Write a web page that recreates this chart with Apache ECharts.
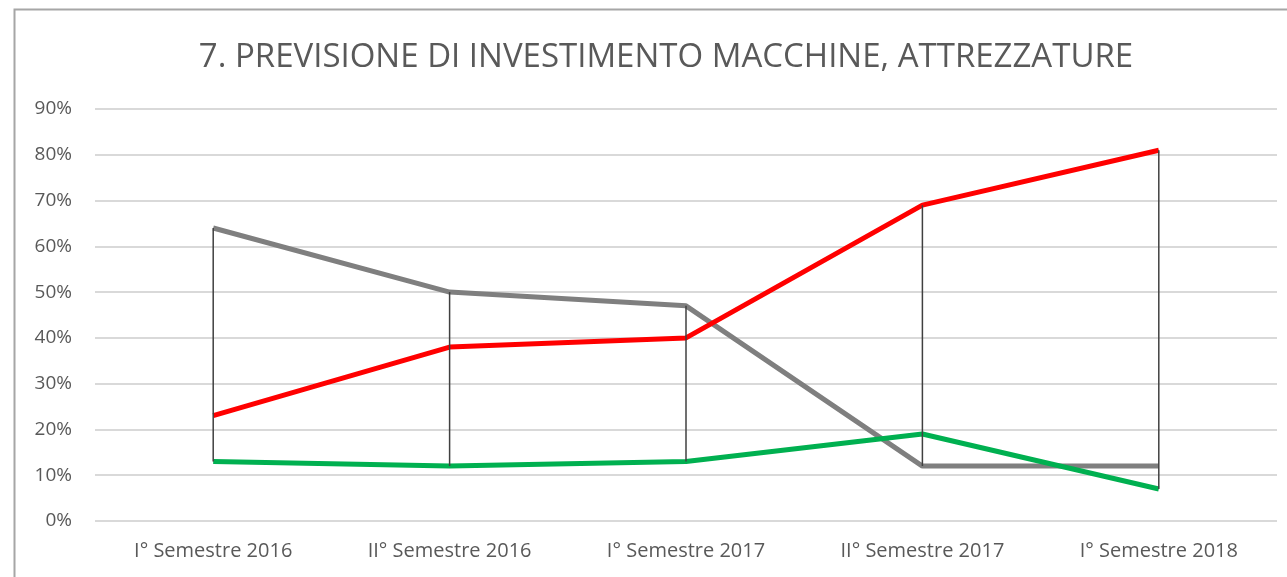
<!DOCTYPE html>
<html>
<head>
<meta charset="utf-8">
<script src="https://cdn.jsdelivr.net/npm/echarts@6/dist/echarts.min.js"></script>
<style>
  html, body { margin: 0; padding: 0; background: #fff; }
  #chart { width: 1287px; height: 577px; }
</style>
</head>
<body>
<div id="chart"></div>
<script>
// dati (percentuali)
const categorie = ['I° Semestre 2016', 'II° Semestre 2016', 'I° Semestre 2017', 'II° Semestre 2017', 'I° Semestre 2018'];
const serieGrigia = [64, 50, 47, 12, 12];
const serieRossa = [23, 38, 40, 69, 81];
const serieVerde = [13, 12, 13, 19, 7];
const tickY = [0, 10, 20, 30, 40, 50, 60, 70, 80, 90];

const chartDom = document.getElementById('chart');
const myChart = echarts.init(chartDom);

// linee max-min per ogni categoria (come le "linee di massimo e minimo" di Excel)
const lineeMaxMin = categorie.map((c, i) => {
    const v = [serieGrigia[i], serieRossa[i], serieVerde[i]];
    return [i, Math.min(...v), Math.max(...v)];
});

const font = '"Open Sans", "Liberation Sans", sans-serif';

const option = {
    animation: false,
    title: {
        text: '7. PREVISIONE DI INVESTIMENTO MACCHINE, ATTREZZATURE',
        left: 661,
        textAlign: 'center',
        top: 36,
        textStyle: { fontFamily: font, fontSize: 33, fontWeight: 'normal', color: '#595959' }
    },
    graphic: [{
        type: 'rect',
        shape: { x: 14.5, y: 9.5, width: 1300, height: 600 },
        style: { fill: 'none', stroke: '#a6a6a6', lineWidth: 2 },
        silent: true
    }],
    grid: { left: 95, right: 10, top: 109, bottom: 56 },
    xAxis: {
        type: 'category',
        data: categorie,
        boundaryGap: true,
        axisLine: { show: false },
        axisTick: { show: false },
        axisLabel: { fontFamily: font, fontSize: 20, color: '#595959', margin: 20 }
    },
    yAxis: {
        type: 'value',
        min: tickY[0],
        max: tickY[tickY.length - 1],
        interval: 10,
        axisLine: { show: false },
        axisTick: { show: false },
        axisLabel: { formatter: '{value}%', fontFamily: font, fontSize: 19, color: '#595959', margin: 23 },
        splitLine: { lineStyle: { color: '#d9d9d9', width: 2 } }
    },
    series: [
        {
            type: 'line', data: serieGrigia, symbol: 'none',
            lineStyle: { color: '#7f7f7f', width: 5 }, z: 3
        },
        {
            type: 'line', data: serieRossa, symbol: 'none',
            lineStyle: { color: '#ff0000', width: 5 }, z: 3
        },
        {
            type: 'line', data: serieVerde, symbol: 'none',
            lineStyle: { color: '#00b050', width: 5 }, z: 3
        },
        {
            type: 'custom',
            data: lineeMaxMin,
            z: 4,
            renderItem: function (params, api) {
                const alto = api.coord([api.value(0), api.value(2)]);
                const basso = api.coord([api.value(0), api.value(1)]);
                return {
                    type: 'line',
                    shape: { x1: alto[0], y1: alto[1], x2: basso[0], y2: basso[1] },
                    style: { stroke: '#404040', lineWidth: 1.5 }
                };
            }
        }
    ]
};

myChart.setOption(option);
window.addEventListener('resize', myChart.resize);
</script>
</body>
</html>
